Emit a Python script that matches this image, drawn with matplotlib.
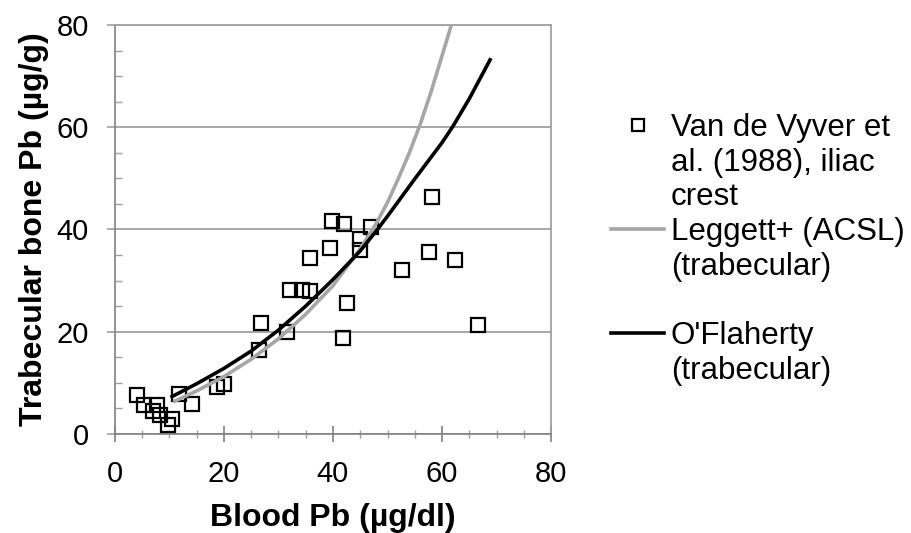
import matplotlib.pyplot as plt
from matplotlib.lines import Line2D
from matplotlib.ticker import MultipleLocator

plt.rcParams['font.family'] = ['Liberation Sans', 'DejaVu Sans']

# Van de Vyver et al. (1988), iliac crest
blood_pb = [4.0, 5.3, 7.8, 7.0, 8.2, 10.5, 9.8, 11.7, 14.1, 18.8, 20.0, 26.4, 26.8, 31.6,
            32.1, 34.4, 35.8, 35.7, 39.4, 39.9, 42.1, 42.5, 41.9, 45.0, 45.0, 47.0, 52.7,
            57.6, 58.1, 62.3, 66.6]
bone_pb = [7.6, 5.7, 5.6, 4.4, 3.7, 3.0, 1.8, 7.8, 5.8, 9.2, 9.8, 16.5, 21.7, 20.0,
           28.2, 28.2, 28.0, 34.5, 36.3, 41.7, 41.0, 25.6, 18.8, 38.2, 36.0, 40.5, 32.1,
           35.5, 46.3, 34.0, 21.4]

# Leggett+ (ACSL), trabecular
leggett_x = [11, 15, 20, 25, 30, 35, 40, 45, 48, 50, 52, 54, 56, 58, 60, 61.7]
leggett_y = [6.4, 8.4, 11.2, 14.6, 18.6, 23.4, 29.0, 36.2, 41.3, 45.3, 50.0, 55.0, 60.6, 67.0, 74.0, 80.0]

# O'Flaherty, trabecular
oflaherty_x = [10.5, 15, 20, 25, 30, 35, 40, 45, 48, 50, 55, 60, 62, 65, 68.8]
oflaherty_y = [7.3, 9.8, 12.8, 16.2, 20.3, 25.0, 30.2, 35.8, 39.8, 42.6, 49.9, 57.0, 60.2, 65.6, 73.2]

fig = plt.figure(figsize=(9.11, 5.33), dpi=100)
ax = fig.add_axes([0.126, 0.186, 0.479, 0.767])

pts, = ax.plot(blood_pb, bone_pb, 's', ms=10.5, mfc='none', mec='black', mew=1.6, zorder=3)
leg_line, = ax.plot(leggett_x, leggett_y, color='#a6a6a6', lw=2.6, zorder=4)
ofl_line, = ax.plot(oflaherty_x, oflaherty_y, color='black', lw=2.6, zorder=5)

ax.set_xlim(0, 80)
ax.set_ylim(0, 80)
ax.xaxis.set_major_locator(MultipleLocator(20))
ax.yaxis.set_major_locator(MultipleLocator(20))
ax.xaxis.set_minor_locator(MultipleLocator(5))
ax.yaxis.set_minor_locator(MultipleLocator(5))

ax.yaxis.grid(True, color='#a0a0a0', lw=1.3)
ax.set_axisbelow(True)
for s in ['left', 'bottom']:
    ax.spines[s].set_color('#808080')
    ax.spines[s].set_linewidth(1.2)
for s in ['top', 'right']:
    ax.spines[s].set_color('#a0a0a0')
    ax.spines[s].set_linewidth(1.3)

ax.tick_params(axis='x', which='major', direction='inout', length=11.5, width=1.2,
               color='#808080', labelsize=21, pad=13)
ax.tick_params(axis='x', which='minor', direction='inout', length=6, width=1,
               color='#a0a0a0')
ax.tick_params(axis='y', which='major', direction='out', length=5.8, width=1.2,
               color='#a0a0a0', labelsize=21, pad=13)
ax.tick_params(axis='y', which='minor', direction='in', length=5, width=1, color='#a0a0a0')

ax.set_xlabel('Blood Pb (µg/dl)', fontsize=23, fontweight='bold', labelpad=11)
ax.set_ylabel('Trabecular bone Pb (µg/g)', fontsize=23, fontweight='bold', labelpad=5)

blank = Line2D([], [], ls='none')
handles = [pts, blank, blank, leg_line, blank, blank, ofl_line, blank]
labels = ['Van de Vyver et', 'al. (1988), iliac', 'crest', 'Leggett+ (ACSL)',
          '(trabecular)', '', "O'Flaherty", '(trabecular)']
fig.legend(handles, labels, loc='upper left', bbox_to_anchor=(611 / 911, 1 - 113 / 533),
           frameon=False, fontsize=22.5, handlelength=1.7, handletextpad=0.22,
           labelspacing=0.15, borderpad=0, borderaxespad=0, markerscale=0.87)

plt.savefig('out.png', dpi=100)
